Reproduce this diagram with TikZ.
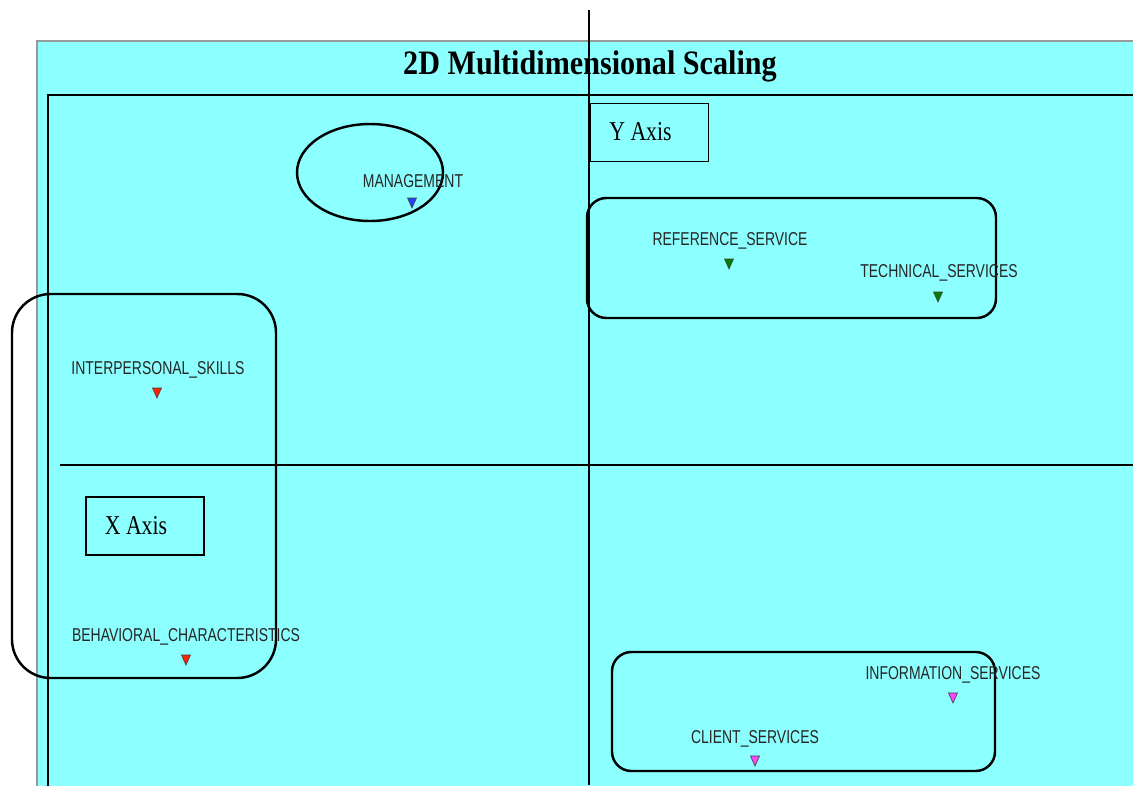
\documentclass[tikz,border=0pt]{standalone}
\usepackage{fontspec}
\setmainfont{Liberation Serif}
\newfontfamily\labelfont{Liberation Sans}
\usetikzlibrary{positioning}

\definecolor{plotbg}{HTML}{8CFFFF}
\definecolor{mgblue}{HTML}{2244FF}
\definecolor{tsgreen}{HTML}{008000}
\definecolor{ipred}{HTML}{FF2200}
\definecolor{csmagenta}{HTML}{FF44FF}

\tikzset{
  itemlabel/.style={font=\labelfont\fontsize{10.6}{12}\selectfont, xscale=0.75, text=black!85, inner sep=0pt},
  axisbox/.style={draw, line width=1pt, minimum width=118*0.02cm, minimum height=58*0.02cm, inner sep=0pt},
  axistext/.style={font=\fontsize{15.5}{18}\selectfont, xscale=0.8, inner sep=0pt},
  group/.style={line width=1.4pt},
  mdsmark/.pic={\filldraw[line width=0.35pt, draw=black!75] (-4.5,-5) -- (4.5,-5) -- (0,5) -- cycle;}
}

\begin{document}
\begin{tikzpicture}[x=0.02cm,y=-0.02cm]
\useasboundingbox (0,0) rectangle (1133,785);
\clip (0,0) rectangle (1133,785);

% background and plot frame
\filldraw[fill=plotbg, draw=black!40, line width=0.6pt] (37,41) rectangle (1160,800);
\draw[line width=0.6pt] (48,95) rectangle (1160,800);
\node[font=\bfseries\fontsize{19.5}{22}\selectfont, xscale=0.88] (title) at (590,66) {2D Multidimensional Scaling};

% axes
\draw[line width=1pt] (589,10) -- (589,785);
\draw[line width=1pt] (60,465) -- (1133,465);
\node[axisbox] (ybox) at (649.5,132.5) {};
\node[axistext] (ylab) at (640.5,132) {Y Axis};
\node[axisbox] (xbox) at (145,526) {};
\node[axistext] (xlab) at (136,526) {X Axis};

% groups
\draw[group] (370,172.5) ellipse [x radius=73, y radius=48.5];
\draw[group, rounded corners=11pt] (587,198) rectangle (996,318);
\draw[group, rounded corners=22pt] (12,294) rectangle (276,678);
\draw[group, rounded corners=11pt] (612,652) rectangle (995,771);

% items
\pic[fill=mgblue] at (412,203) {mdsmark};
\node[itemlabel] (mgmt) at (413,181) {MANAGEMENT};

\pic[fill=tsgreen] at (729,264) {mdsmark};
\node[itemlabel] (refserv) at (730,241) {REFERENCE\_SERVICE};
\pic[fill=tsgreen] at (938,297) {mdsmark};
\node[itemlabel] (techserv) at (939,273) {TECHNICAL\_SERVICES};

\pic[fill=ipred] at (157,393) {mdsmark};
\node[itemlabel] (interp) at (158,370) {INTERPERSONAL\_SKILLS};
\pic[fill=ipred] at (186,660) {mdsmark};
\node[itemlabel] (behav) at (186,637) {BEHAVIORAL\_CHARACTERISTICS};

\pic[fill=csmagenta] at (953,698) {mdsmark};
\node[itemlabel] (infoserv) at (953,675) {INFORMATION\_SERVICES};
\pic[fill=csmagenta] at (755,761) {mdsmark};
\node[itemlabel] (clientserv) at (755,739) {CLIENT\_SERVICES};
\end{tikzpicture}
\end{document}
